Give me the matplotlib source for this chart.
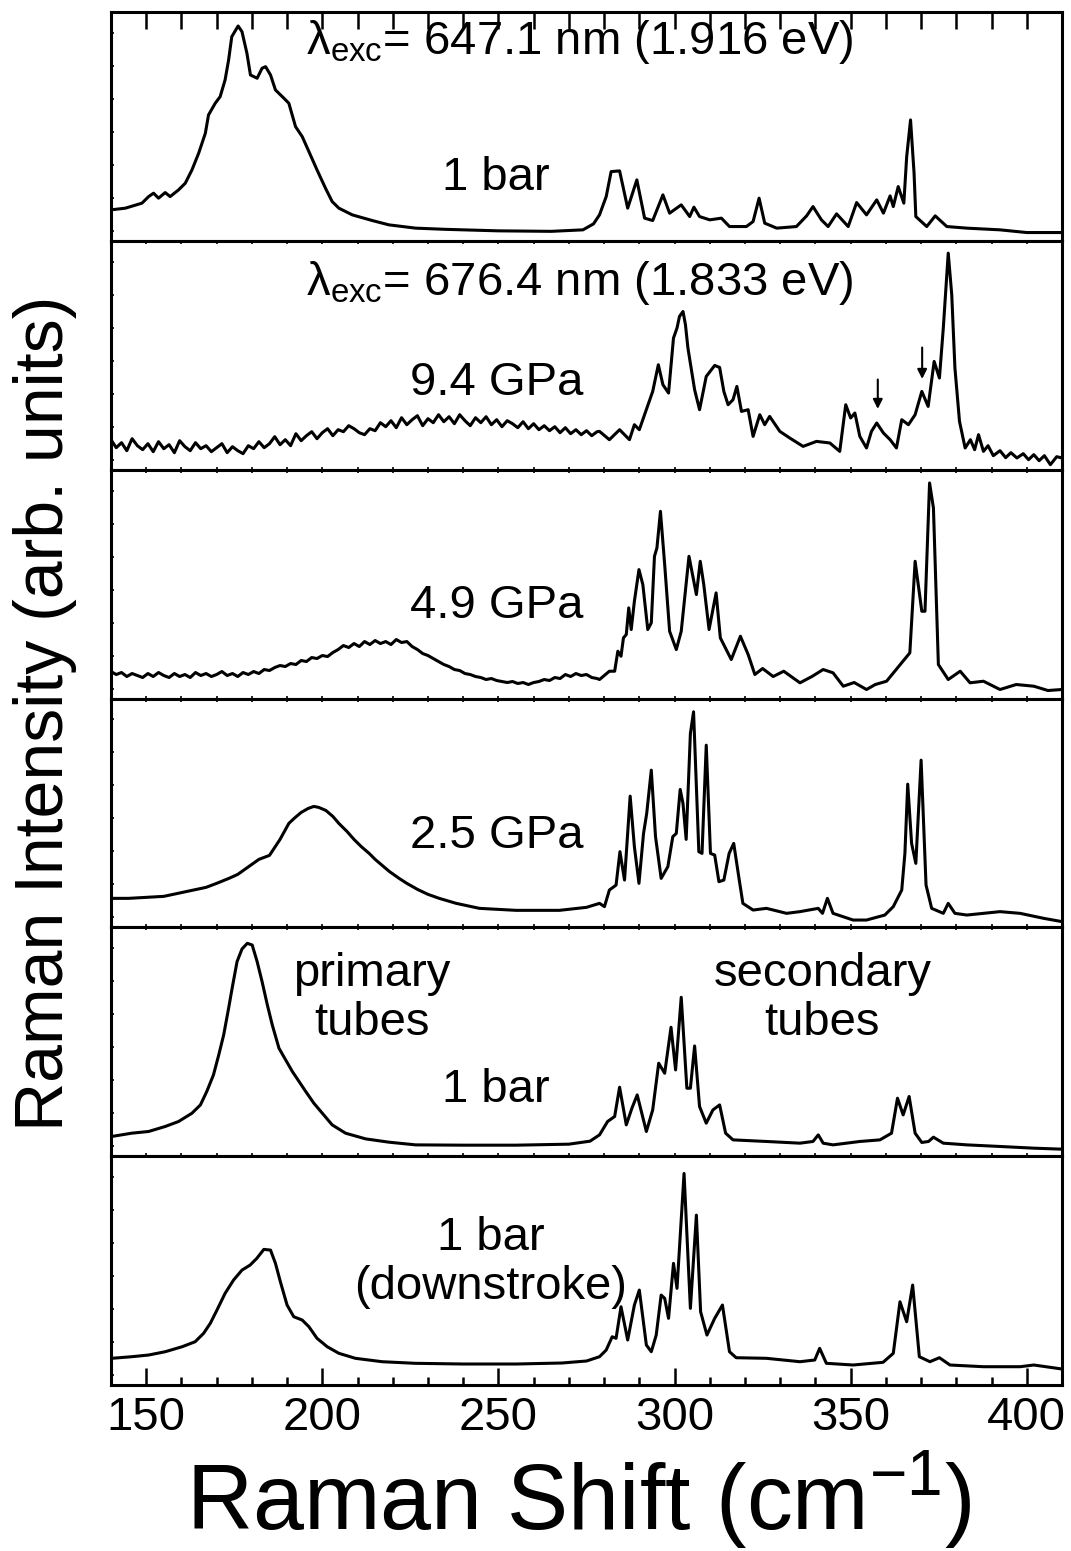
import numpy as np
import matplotlib
matplotlib.use("Agg")
import matplotlib.pyplot as plt
from matplotlib.ticker import MultipleLocator, FixedLocator

# Raman spectra, intensities in arbitrary units (0 = bottom of each panel)

# 647.1 nm, 1 bar
p1_x = [140, 144.1, 148.8, 150.7, 152.1, 153.5, 155.4, 156.8, 159.2, 161.1, 163, 164.9, 166.8, 167.7,
        169.6, 171, 172.4, 173.4, 174.3, 176.1, 177.2, 178.6, 179.6, 181.5, 182.9, 183.9, 185.3,
        186.7, 189.1, 190.5, 192.4, 194.3, 196.2, 198.5, 200.9, 202.8, 204.7, 208.5, 214.2, 218.9,
        226.5, 235, 250, 265, 274, 277,
        278.7, 280.6, 282, 284.4, 286.7, 289.3, 291.5, 293.8, 296.7, 298.6, 301.9, 304.3, 305.5,
        307.1, 310, 313.3, 315.6, 320.4, 322.3, 324, 325.6, 329, 334.6, 337.5, 339.3, 341.7, 343.6,
        346, 349.3, 351.7, 354.5, 357.4, 359.3, 361.2, 362.1, 363.5, 365.1, 365.9, 367, 368, 368.5,
        371.6, 374, 377.3, 383, 392.4, 400, 410]
p1_y = [31, 32.7, 37.7, 44.3, 47.7, 42.7, 48.3, 44.3, 51, 57.7, 71, 87.7, 107.7, 126,
        137.7, 144.3, 161, 181, 204.3, 215, 209.3, 187.7, 166, 162.7, 172.7, 174.3, 166,
        151, 142.7, 137.7, 114.3, 104.3, 89.3, 71, 52.7, 39.3, 32.7, 26, 20.3, 16,
        12.7, 11.5, 10, 9.5, 11, 17,
        26, 44.3, 69.3, 70, 32.7, 61, 22.7, 20.3, 46, 27.7, 36, 24.3, 33.7,
        24.3, 21, 22.7, 14.3, 14.3, 19.3, 42.7, 17.7, 12.7, 14.3, 25, 34.3, 21, 14.3,
        27, 14.3, 38.3, 26, 41, 27.7, 45, 34.3, 54.3, 37.7, 84, 121, 67.7, 24.3,
        14.3, 25, 14.3, 12.7, 11, 8.3, 8.3]

# 676.4 nm, 9.4 GPa
p2_x = [140, 141.5, 143, 144.5, 146, 147.5, 149, 150.5, 152, 153.5, 155, 156.5, 158, 159.5, 161,
        162.5, 164, 165.5, 167, 168.5, 170, 171.5, 173, 174.5, 176, 177.5, 179, 180.5, 182, 183.5,
        185, 186.5, 188, 189.5, 191, 192.5, 194, 195.5, 197, 198.5, 200, 201.5, 203, 204.5, 206,
        207.5, 209, 210.5, 212, 213.5, 215, 216.5, 218, 219.5, 221, 222.5, 224, 225.5, 227, 228.5,
        230, 231.5, 233, 234.5, 236, 237.5, 239, 240.5, 242, 243.5, 245, 246.5, 248, 249.5, 251,
        252.5, 254, 255.5, 257, 258.5, 260, 261.5, 263, 264.5, 266, 267.5, 269, 270.5, 272, 273.5,
        275, 276.5, 278,
        278.7, 281.5, 284.4, 287.2, 288.6, 290, 292, 293.8, 295.4, 296.7, 298.3, 299.7, 300.7,
        301.4, 302.4, 303.1, 303.8, 305.7, 307.1, 309, 311.4, 312.8, 314, 315.2, 316.6, 317.7,
        319, 320.9, 322.3, 324.2, 325.6, 327, 329.9, 332.7, 336.5, 340.3, 344.1, 346.9, 348.6,
        350, 351.2, 352.6, 354.5, 355.9, 357.4, 359.3, 361.2, 363, 364.5, 366.4, 368.3, 370.2,
        372, 373.7, 375.2, 376.3, 377.7, 378.7, 379.6, 380.9, 382.5, 384, 385.2, 386.3, 387.7,
        389, 390.5, 392.4, 394, 395.5, 397.2, 399, 400.5, 402, 403.5, 405, 406.7, 408.5, 410]
p2_y = [30, 22, 27, 19, 31, 24, 20, 26, 18, 28, 21, 25, 17, 29, 23,
        19, 27, 21, 24, 18, 22, 26, 17, 23, 19, 16, 24, 21, 28, 22,
        26, 33, 25, 30, 24, 36, 29, 34, 38, 31, 37, 41, 34, 40, 38,
        44, 41, 37, 35, 41, 39, 47, 43, 49, 42, 52, 45, 50, 54, 44,
        51, 47, 55, 48, 53, 46, 55, 49, 44, 52, 47, 53, 45, 50, 43,
        49, 46, 42, 48, 41, 46, 40, 44, 39, 43, 37, 42, 36, 40, 35,
        39, 34, 38,
        38.3, 30, 40, 30, 45, 40, 60, 78.3, 105, 85, 76.7, 131.7, 141.7,
        153.3, 158.3, 145, 121.7, 80, 60, 93.3, 104.3, 102.3, 78.3, 65, 70, 83.3,
        58.3, 60, 33.3, 55, 45, 53.3, 38.3, 31.7, 23.3, 28.3, 26.7, 18.3, 65,
        51.7, 56.7, 33.3, 21.7, 38.3, 46.7, 36.7, 30, 21.7, 50, 45, 55, 78.3,
        63.3, 108.3, 91.7, 141.7, 216.7, 175, 101.7, 48.3, 21.7, 30, 20, 35, 18.3,
        24, 14, 19, 12, 17, 11.7, 16, 10, 15, 9, 14, 5, 13, 11.7]

# 676.4 nm, 4.9 GPa
p3_x = [140, 141.5, 143, 144.5, 146, 147.5, 149, 150.5, 152, 153.5, 155, 156.5, 158, 159.5, 161,
        162.5, 164, 165.5, 167, 168.5, 170, 171.5, 173, 174.5, 176, 177.5, 179, 180.5, 182, 183.5,
        185, 186.5, 188, 189.5, 191, 192.5, 194, 195.5, 197, 198.5, 200, 201.5, 203, 204.5, 206,
        207.5, 209, 210.5, 212, 213.5, 215, 216.5, 218, 219.5, 221, 222.5, 224, 225.5, 227, 228.5,
        230, 231.5, 233, 234.5, 236, 237.5, 239, 240.5, 242, 243.5, 245, 246.5, 248, 249.5, 251,
        252.5, 254, 255.5, 257, 258.5, 260, 261.5, 263, 264.5, 266, 267.5, 269, 270.5, 272, 273.5,
        275, 276.5, 278,
        278.7, 281.5, 283, 283.9, 284.8, 285.5, 286.3, 287, 287.7, 288.6, 289.9, 291, 292.4,
        293.4, 294.3, 295, 296, 297.2, 298.6, 300.5, 301.9, 304.1, 306.2, 307.3, 308.3, 309.8,
        311.8, 313, 316.1, 318.7, 320.9, 322.8, 325, 328, 331, 335.6, 339, 342.2, 345, 347.9,
        351, 354.5, 357, 360.2, 364.5, 366.8, 368.3, 370.2, 371.1, 372.4, 373.5, 374.9, 377.7,
        381.1, 383.9, 387.7, 392.4, 397, 402, 406, 410]
p3_y = [27, 24, 26, 22, 25, 23, 21, 25, 22, 26, 23, 21, 25, 22, 24,
        21, 26, 23, 25, 22, 24, 27, 23, 25, 22, 26, 24, 27, 25, 29,
        28, 31, 33, 32, 35, 34, 38, 37, 41, 40, 43, 42, 46, 49, 53,
        51, 55, 52, 57, 54, 58, 55, 57, 54, 59, 56, 57, 52, 49, 45,
        43, 40, 37, 34, 32, 29, 28, 25, 24, 22, 21, 19, 20, 18, 17,
        16, 17, 15, 16, 14, 16, 17, 19, 18, 21, 20, 24, 22, 25, 23,
        24, 21, 20,
        19, 27.3, 27.3, 47.3, 42.3, 60.7, 64, 90.7, 69, 97.3, 129, 114, 69,
        75.7, 142.3, 150.7, 187.3, 134, 67.3, 49, 67.3, 142.3, 104, 137.3, 114, 69,
        105.7, 60.7, 39, 62.3, 44, 24, 30, 22, 27.3, 15.7, 22, 29, 25.7, 12.3,
        16, 9, 14, 17.3, 35.7, 45.7, 137.3, 87.3, 87.3, 215.7, 190.7, 34, 19,
        27.3, 15.7, 17.3, 9, 14, 12.3, 8, 9]

# 676.4 nm, 2.5 GPa
p4_x = [140, 145, 150, 155, 159, 163, 167, 170, 173.5, 176, 178, 180, 182, 185, 188, 190.5, 192,
        194, 196, 197.6, 199, 201, 203, 204.7, 207, 209, 211, 213.3, 215, 217, 219, 221.8, 224,
        227, 230, 233.2, 238, 244.6, 255, 267.3, 275,
        278.7, 280.1, 281.5, 283.4, 284.5, 285.8, 287.4, 288.6, 289.9, 291.2, 292.1, 293.4,
        294.6, 296.2, 298.1, 299.5, 300.5, 301.6, 302.4, 303.3, 304.5, 305.4, 306.9, 307.8,
        309, 310.2, 311.4, 312.6, 314, 315.5, 316.8, 318.3, 319.4, 322.3, 326.1, 331.8, 335.6,
        340.8, 342, 343.4, 345, 350.7, 354.5, 359.7, 362.1, 364.5, 365.4, 366.2, 367.3, 368.5,
        370, 371.4, 373, 376.3, 377.7, 379.6, 383, 392.4, 398.1, 404.8, 410]
p4_y = [29, 29, 30, 31, 34, 37, 40, 44, 49, 53, 58, 63, 68, 72, 88, 104, 109,
        115, 119, 121, 120, 117, 111, 104, 96, 88, 81, 74, 68, 62, 56, 49, 44,
        38, 33, 29, 24, 19, 17, 17, 20,
        24, 20.7, 37.3, 42.3, 75.7, 47.3, 131.3, 80.7, 44, 94, 114, 157.3,
        90.7, 49, 60.7, 90.7, 94, 138, 124, 88, 194, 215.7, 75.7, 74,
        182.3, 74, 72.3, 45.7, 47.3, 74, 84, 49, 24, 17.3, 19, 14, 15.7,
        19, 14, 29, 14, 7.3, 7.3, 12.3, 20.7, 37.3, 74, 143.3, 84, 64,
        167.3, 42.3, 19, 14, 24, 14, 12.3, 15.7, 14, 9, 5.7]

# 676.4 nm, 1 bar
p5_x = [140.2, 145.9, 150.7, 155.4, 159.2, 163, 165.4, 167.2, 169.1, 170.6, 172, 173.4, 174.4,
        175.8, 177.2, 178.7, 180.1, 181.5, 182.9, 184.4, 185.8, 187.7, 189.6, 191.5, 193.4, 195.3,
        197.6, 200, 202.8, 206.6, 212.3, 218.9, 226.5, 240, 255, 270, 276,
        278.7, 281, 283, 284.4, 286.3, 287.9, 289.4, 292, 293.8, 295.5, 297.2, 299, 300.3, 301.9,
        303.5, 304.5, 305.7, 307.1, 309, 310.9, 312.8, 314.5, 316.6, 326.1, 335.6, 339.3, 340.8,
        342.2, 345, 352.6, 358.3, 361.6, 363.3, 364.9, 366.6, 368.3, 370.2, 372.1, 373.5, 376.3,
        383, 392.4, 402, 410]
p5_y = [19.7, 23, 24.7, 29.7, 34.7, 43, 51.3, 64.7, 81.3, 101.3, 121.3, 148, 168,
        194.7, 207.3, 213, 211.3, 194.7, 174.7, 151.3, 131.3, 108, 96.3, 84.7, 74.7, 64.7,
        53, 43, 31.3, 23, 17.3, 14, 11.3, 11, 11, 12, 15,
        21.3, 34.7, 39.7, 69, 31.3, 48, 61.3, 24.7, 46.3, 93, 83, 129, 86.3, 159,
        68, 68, 110.3, 49.7, 33, 46.3, 51.3, 23, 16.3, 14.7, 13, 14.7, 21.3,
        13, 11.3, 14.7, 16.3, 23, 58, 41.3, 59.7, 23, 13.7, 14.7, 19, 13,
        11.3, 9.7, 8, 7]

# 676.4 nm, 1 bar (downstroke)
p6_x = [140.2, 145.9, 150.7, 155.4, 160.2, 163.9, 166.3, 168.2, 170.1, 172.4, 174.8, 177.2, 179.5,
        181.4, 183.4, 185.3, 186.7, 188.1, 190, 191.9, 194.3, 196.2, 198.5, 201.4, 204.7, 209.4,
        217, 226.4, 240, 255, 268, 275,
        278.7, 280.6, 282.3, 283.4, 284.8, 286.7, 288.6, 290, 292, 293.4, 294.8, 296.2, 297.2,
        298.3, 299.7, 300.7, 302.7, 304.5, 306.2, 307.4, 309.2, 311.4, 313.6, 315.6, 317.5,
        326.1, 335.6, 339.8, 341.2, 343.1, 350.7, 359.2, 362.1, 364, 365.9, 367.6, 369.5, 372.5,
        375.2, 378.2, 387.7, 398.1, 402, 410]
p6_y = [26.7, 28.3, 30, 33.3, 38.3, 43.3, 51.7, 61.7, 75, 91.7, 105, 115, 120,
        126.7, 135.7, 135, 121.7, 103.3, 80, 68.3, 65, 58.3, 46.7, 38.3, 31.7, 26.7,
        23.3, 21.7, 21, 21, 22, 24,
        28.3, 35, 48.3, 46.7, 78.3, 45, 80, 95, 40, 33.3, 50, 90, 86.7,
        66.7, 121.7, 96.7, 211.7, 76.7, 170, 73.3, 50, 66.7, 80, 33.3, 27.3,
        26.7, 23.3, 25, 36.7, 21.7, 20, 22.7, 31.7, 83.3, 63.3, 100, 28.3, 23.3,
        27.3, 20, 18.3, 18.3, 20, 16]

spectra_x = [p1_x, p2_x, p3_x, p4_x, p5_x, p6_x]
spectra_y = [p1_y, p2_y, p3_y, p4_y, p5_y, p6_y]

plt.rcParams['font.family'] = ['Liberation Sans', 'DejaVu Sans']
plt.rcParams['mathtext.fontset'] = 'custom'
plt.rcParams['mathtext.rm'] = 'Liberation Sans'
plt.rcParams['mathtext.it'] = 'Liberation Sans:italic'
plt.rcParams['mathtext.default'] = 'regular'

fig = plt.figure(figsize=(10.71, 15.51), dpi=100)

left, width = 0.1036, 0.888
bottom, top = 0.10703, 0.99226
h = (top - bottom) / 6

axes = []
for i in range(6):
    ax = fig.add_axes([left, top - (i + 1) * h, width, h])
    ax.plot(spectra_x[i], spectra_y[i], color='k', lw=2.2, solid_joinstyle='round')
    ax.set_xlim(140, 410)
    ax.set_ylim(0, 229)
    for s in ax.spines.values():
        s.set_linewidth(2.2)
    ax.xaxis.set_major_locator(MultipleLocator(50))
    ax.xaxis.set_minor_locator(MultipleLocator(10))
    ax.yaxis.set_major_locator(FixedLocator(np.arange(10, 229, 33)))
    ax.tick_params(axis='y', which='both', direction='in', length=2, width=1.2,
                   labelleft=False)
    ax.tick_params(axis='x', which='both', direction='in', top=True, bottom=True,
                   length=2, width=1.2, labelbottom=False)
    axes.append(ax)

# top panel: long ticks on the top edge
axes[0].tick_params(axis='x', which='both', top=True, bottom=False, length=12, width=1.8)
# bottom panel: labelled axis
axes[5].tick_params(axis='x', which='major', top=False, bottom=True, length=12, width=1.8,
                    labelbottom=True, labelsize=34, pad=8)
axes[5].tick_params(axis='x', which='minor', top=False, bottom=True, length=6, width=1.8)

fs = 34
axes[0].text(273, 199, "λ$_{exc}$= 647.1 nm (1.916 eV)", fontsize=fs, ha='center', va='center')
axes[0].text(249.4, 63, "1 bar", fontsize=fs, ha='center', va='center')
axes[1].text(273, 187, "λ$_{exc}$= 676.4 nm (1.833 eV)", fontsize=fs, ha='center', va='center')
axes[1].text(249.4, 87, "9.4 GPa", fontsize=fs, ha='center', va='center')
axes[2].text(249.4, 93, "4.9 GPa", fontsize=fs, ha='center', va='center')
axes[3].text(249.4, 91, "2.5 GPa", fontsize=fs, ha='center', va='center')
axes[4].text(214, 158, "primary\ntubes", fontsize=fs, ha='center', va='center', linespacing=1.15)
axes[4].text(342, 158, "secondary\ntubes", fontsize=fs, ha='center', va='center', linespacing=1.15)
axes[4].text(249.4, 66, "1 bar", fontsize=fs, ha='center', va='center')
axes[5].text(247.7, 123, "1 bar\n(downstroke)", fontsize=fs, ha='center', va='center',
             linespacing=1.15)

# arrows marking weak features at 9.4 GPa
for ax_x, y0, y1 in [(357.7, 93, 58), (370.3, 125, 88)]:
    axes[1].annotate('', xy=(ax_x, y1), xytext=(ax_x, y0),
                     arrowprops=dict(arrowstyle='-|>', color='k', lw=1.5, mutation_scale=14))

fig.text(0.042, 0.54, "Raman Intensity (arb. units)", rotation=90, fontsize=49,
         ha='center', va='center')
fig.text(0.54, 0.033, "Raman Shift (cm$^{-1}$)", fontsize=66, ha='center', va='center')

fig.savefig("out.png", dpi=100)
